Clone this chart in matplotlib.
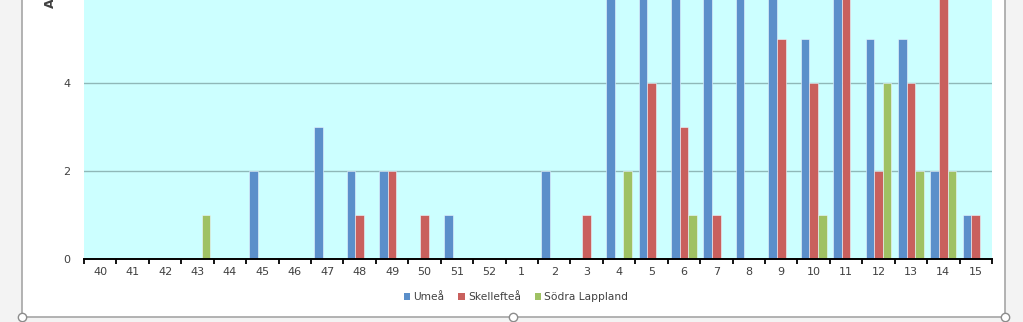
"""Weekly case counts per area — clustered bar chart, Excel style."""

import matplotlib
matplotlib.use("Agg")
import matplotlib.pyplot as plt
from matplotlib.patches import Rectangle, Patch
from matplotlib.lines import Line2D
import numpy as np

weeks = ["40", "41", "42", "43", "44", "45", "46", "47", "48", "49", "50", "51", "52",
         "1", "2", "3", "4", "5", "6", "7", "8", "9", "10", "11", "12", "13", "14", "15"]
umea = [0, 0, 0, 0, 0, 2, 0, 3, 2, 2, 0, 1, 0, 0, 2, 0, 8, 7, 9, 7, 8, 10, 5, 7, 5, 5, 2, 1]
skelleftea = [0, 0, 0, 0, 0, 0, 0, 0, 1, 2, 1, 0, 0, 0, 0, 1, 0, 4, 3, 1, 0, 5, 4, 7, 2, 4, 7, 1]
sodra_lappland = [0, 0, 0, 1, 0, 0, 0, 0, 0, 0, 0, 0, 0, 0, 0, 0, 2, 0, 1, 0, 0, 0, 1, 0, 4, 2, 2, 0]

series = [("Umeå", umea, "#5b8fca"),
          ("Skellefteå", skelleftea, "#c9605d"),
          ("Södra Lappland", sodra_lappland, "#9fc163")]

W, H = 1023, 322
fig = plt.figure(figsize=(W / 100, H / 100), dpi=100, facecolor="#f3f3f3")

# chart frame (top runs off the picture)
frame = Rectangle((22 / W, (H - 317) / H), (1005 - 22) / W, 1.2,
                  transform=fig.transFigure, facecolor="white",
                  edgecolor="#a6a6a6", linewidth=1.2, zorder=-5)
fig.patches.append(frame)
for hx in (22, 513, 1005):
    fig.add_artist(Line2D([hx / W], [(H - 317) / H], marker="o", markersize=6,
                          markerfacecolor="white", markeredgecolor="#8c8c8c",
                          markeredgewidth=1, transform=fig.transFigure, zorder=10))

# plot area extends above the picture, as in the cropped original
ax = fig.add_axes([84 / W, (H - 259) / H, (992 - 84) / W, 352 / H])
ax.set_zorder(2)
ax.set_facecolor("#ccffff")
x = np.arange(len(weeks))
bw = 0.265
for i, (name, vals, col) in enumerate(series):
    ax.bar(x + (i - 1) * bw, vals, width=bw, color=col, label=name, zorder=3,
           edgecolor="#eef6ff", linewidth=0.4)

ax.set_xlim(-0.5, len(weeks) - 0.5)
ax.set_ylim(0, 8)
ax.set_yticks([0, 2, 4, 6, 8])
ax.set_yticklabels(["0", "2", "4", "", ""])
ax.yaxis.grid(True, color="#8fb8b8", linewidth=1.0, zorder=1)
ax.tick_params(axis="y", length=0, pad=10, labelsize=8, labelcolor="#404040")

ax.set_xticks(x)
ax.set_xticklabels(weeks)
ax.set_xticks(np.arange(-0.5, len(weeks)), minor=True)
ax.tick_params(axis="x", which="major", length=0, pad=6, labelsize=8, labelcolor="#404040")
ax.tick_params(axis="x", which="minor", length=3.5, width=1.3, color="black", direction="out")

for side in ("left", "right", "top"):
    ax.spines[side].set_visible(False)
ax.spines["bottom"].set_color("black")
ax.spines["bottom"].set_linewidth(1.4)
ax.spines["bottom"].set_zorder(4)

fig.text(50 / W, 1 - 8 / H, "Antal", rotation=90, ha="center", va="bottom",
         fontsize=9, fontweight="bold", color="#404040")

handles = [Patch(facecolor=c, label=n) for n, _, c in series]
fig.legend(handles=handles, loc="center", bbox_to_anchor=(516 / W, (H - 297) / H),
           ncol=3, frameon=False, fontsize=7.7, handlelength=0.6, handleheight=0.6,
           handletextpad=0.3, columnspacing=1.3, labelcolor="#404040")

fig.savefig("out.png", dpi=100, facecolor=fig.get_facecolor())
